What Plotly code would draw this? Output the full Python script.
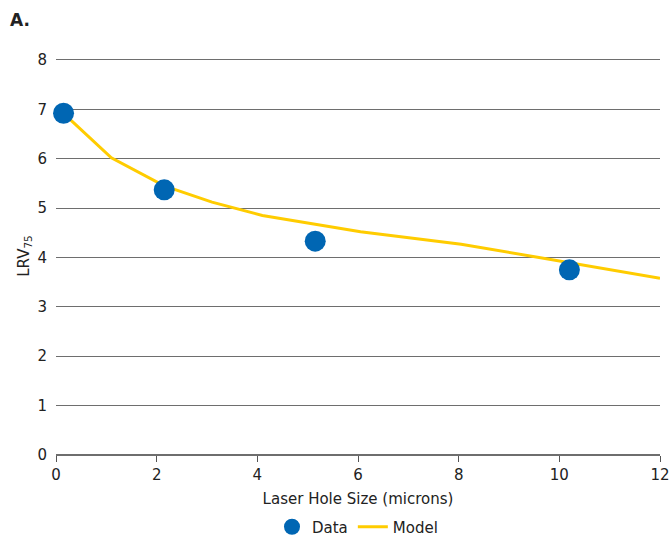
import plotly.graph_objects as go

data_x = [0.15, 2.15, 5.15, 10.2]
data_y = [6.92, 5.37, 4.33, 3.75]

model_x = [0.15, 1.1, 2.15, 3.1, 4.1, 6.05, 8.05, 10.1, 12.0]
model_y = [6.92, 6.02, 5.45, 5.12, 4.85, 4.52, 4.27, 3.91, 3.58]

x_ticks = [0, 2, 4, 6, 8, 10, 12]
y_ticks = [0, 1, 2, 3, 4, 5, 6, 7, 8]

font_family = "DejaVu Sans, Verdana, sans-serif"

W, H = 671, 538
L, R, B = 56, 11, 83
y_top = 8.06
ph = round((H - B - 60) * y_top / 8)
T = H - B - ph
pw = W - L - R

fig = go.Figure()
fig.add_trace(go.Scatter(
    x=model_x, y=model_y, mode="lines", name="Model",
    line=dict(color="#FFCC00", width=3), cliponaxis=False,
))
fig.add_trace(go.Scatter(
    x=data_x, y=data_y, mode="markers", name="Data",
    marker=dict(color="#0066B3", size=21), cliponaxis=False,
))

fig.update_layout(
    width=W, height=H,
    margin=dict(l=L, r=R, t=T, b=B, autoexpand=False),
    paper_bgcolor="white", plot_bgcolor="white",
    font=dict(family=font_family, size=15, color="#222"),
    showlegend=True,
    legend=dict(orientation="h", x=(272 - L) / pw, xanchor="left",
                y=-(527 - (T + ph)) / ph, yanchor="middle",
                traceorder="reversed", font=dict(size=15),
                itemsizing="trace", borderwidth=0),
    annotations=[dict(text="<b>A.</b>", x=-(L - 8) / pw, y=1 + (T - 20) / ph,
                      xref="paper", yref="paper", showarrow=False,
                      xanchor="left", yanchor="middle",
                      font=dict(size=17, color="#222"))],
)

fig.update_xaxes(
    range=[0, 12], tickvals=x_ticks, ticktext=[str(v) for v in x_ticks],
    showgrid=False, zeroline=False, showline=False, automargin=False,
    ticks="outside", ticklen=6, tickcolor="#555", tickwidth=1,
    title=dict(text="Laser Hole Size (microns)", font=dict(size=15), standoff=10),
)
fig.update_yaxes(
    range=[0, y_top], tickvals=y_ticks, ticktext=[str(v) for v in y_ticks],
    showgrid=True, gridcolor="#6e6e6e", gridwidth=1,
    zeroline=True, zerolinecolor="#6e6e6e", zerolinewidth=1.5,
    showline=False, ticks="", ticklabelstandoff=8, automargin=False,
    title=dict(text="LRV<sub>75</sub>", font=dict(size=15), standoff=4),
)

fig.write_html("out.html", config={"displayModeBar": False},
               post_script="document.body.style.margin='0px';")
